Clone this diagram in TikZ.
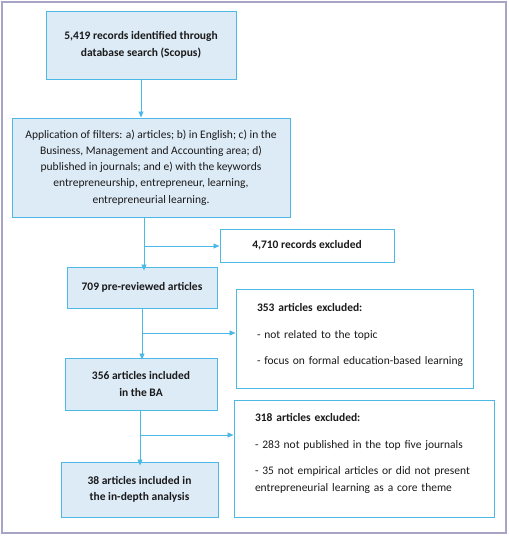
\documentclass[tikz,border=0pt]{standalone}
\usepackage{fontspec}
\setmainfont{Carlito}
\usepackage{xcolor}
\usepackage{tikz}
\usetikzlibrary{arrows.meta}
\definecolor{edge}{HTML}{4CB8E6}
\definecolor{boxfill}{HTML}{DDEBF7}
\definecolor{frame}{HTML}{A8A4C6}
\definecolor{ink}{HTML}{1A1A1A}
\tikzset{
  stage/.style={draw=edge, fill=boxfill, line width=1pt, align=center, inner sep=2pt,
    font=\fontsize{11.5}{16.5}\selectfont\bfseries},
  excl/.style={draw=edge, fill=white, line width=1pt, align=left, inner sep=2pt,
    font=\fontsize{11.5}{16.5}\selectfont},
  flow/.style={draw=edge, line width=0.9pt},
  arr/.style={flow, -{Triangle[length=6pt,width=5pt]}},
  every node/.style={text=ink}
}
\begin{document}
\begin{tikzpicture}[x=1pt,y=-1pt]
  \useasboundingbox (0,0) rectangle (509,536);
  \draw[frame, line width=1.5pt] (2,2) rectangle (506,533);

  % main column
  \node[stage, minimum width=190pt, minimum height=68pt] (search) at (141,45)
    {5,419 records identified through\\database search (Scopus)};
  \node[stage, font=\fontsize{11.5}{16.2}\selectfont, minimum width=278pt, minimum height=99pt] (filters) at (151,167.5)
    {Application of filters: a) articles; b) in English; c) in the\\
     Business, Management and Accounting area; d)\\
     published in journals; and e) with the keywords\\
     entrepreneurship, entrepreneur, learning,\\
     entrepreneurial learning.};
  \node[stage, minimum width=150pt, minimum height=41pt] (prerev) at (142,287.5)
    {709 pre-reviewed articles};
  \node[stage, minimum width=152pt, minimum height=52pt] (incba) at (141,384)
    {356 articles included\\in the BA};
  \node[stage, minimum width=157pt, minimum height=55pt] (indepth) at (139.5,489.5)
    {38 articles included in\\the in-depth analysis};

  % exclusion boxes
  \node[excl, font=\fontsize{11.5}{16.5}\selectfont\bfseries, minimum width=174pt, minimum height=33pt, align=center] (ex1) at (307,245.5)
    {4,710 records excluded};
  \node[excl, text width=195pt, minimum width=237pt, minimum height=99pt] (ex2) at (354.5,338.5)
    {\textbf{353 articles excluded:}\\[10pt]
     - not related to the topic\\[10pt]
     \mbox{- focus on formal education-based learning}\par\vspace{7pt}};
  \node[excl, text width=218pt, minimum width=260pt, minimum height=117pt] (ex3) at (364,458.5)
    {\textbf{318 articles excluded:}\\[10pt]
     - 283 not published in the top five journals\\[10pt]
     - 35 not empirical articles or did not present\\
     entrepreneurial learning as a core theme\par\vspace{10pt}};

  % junctions
  \coordinate (j1) at (144,246);
  \coordinate (j2) at (142,333);
  \coordinate (j3) at (140,435);

  \draw[arr] (search.south) -- (filters.north -| search.south);
  \draw[arr] (filters.south -| j1) -- ([yshift=-4pt]prerev.north -| j1);
  \draw[arr] (j1) -- (ex1.west |- j1);
  \draw[arr] (prerev.south -| j2) -- ([yshift=-2pt]incba.north -| j2);
  \draw[arr] (j2) -- (ex2.west |- j2);
  \draw[arr] (incba.south -| j3) -- ([yshift=-4pt]indepth.north -| j3);
  \draw[arr] (j3) -- (ex3.west |- j3);
\end{tikzpicture}
\end{document}
